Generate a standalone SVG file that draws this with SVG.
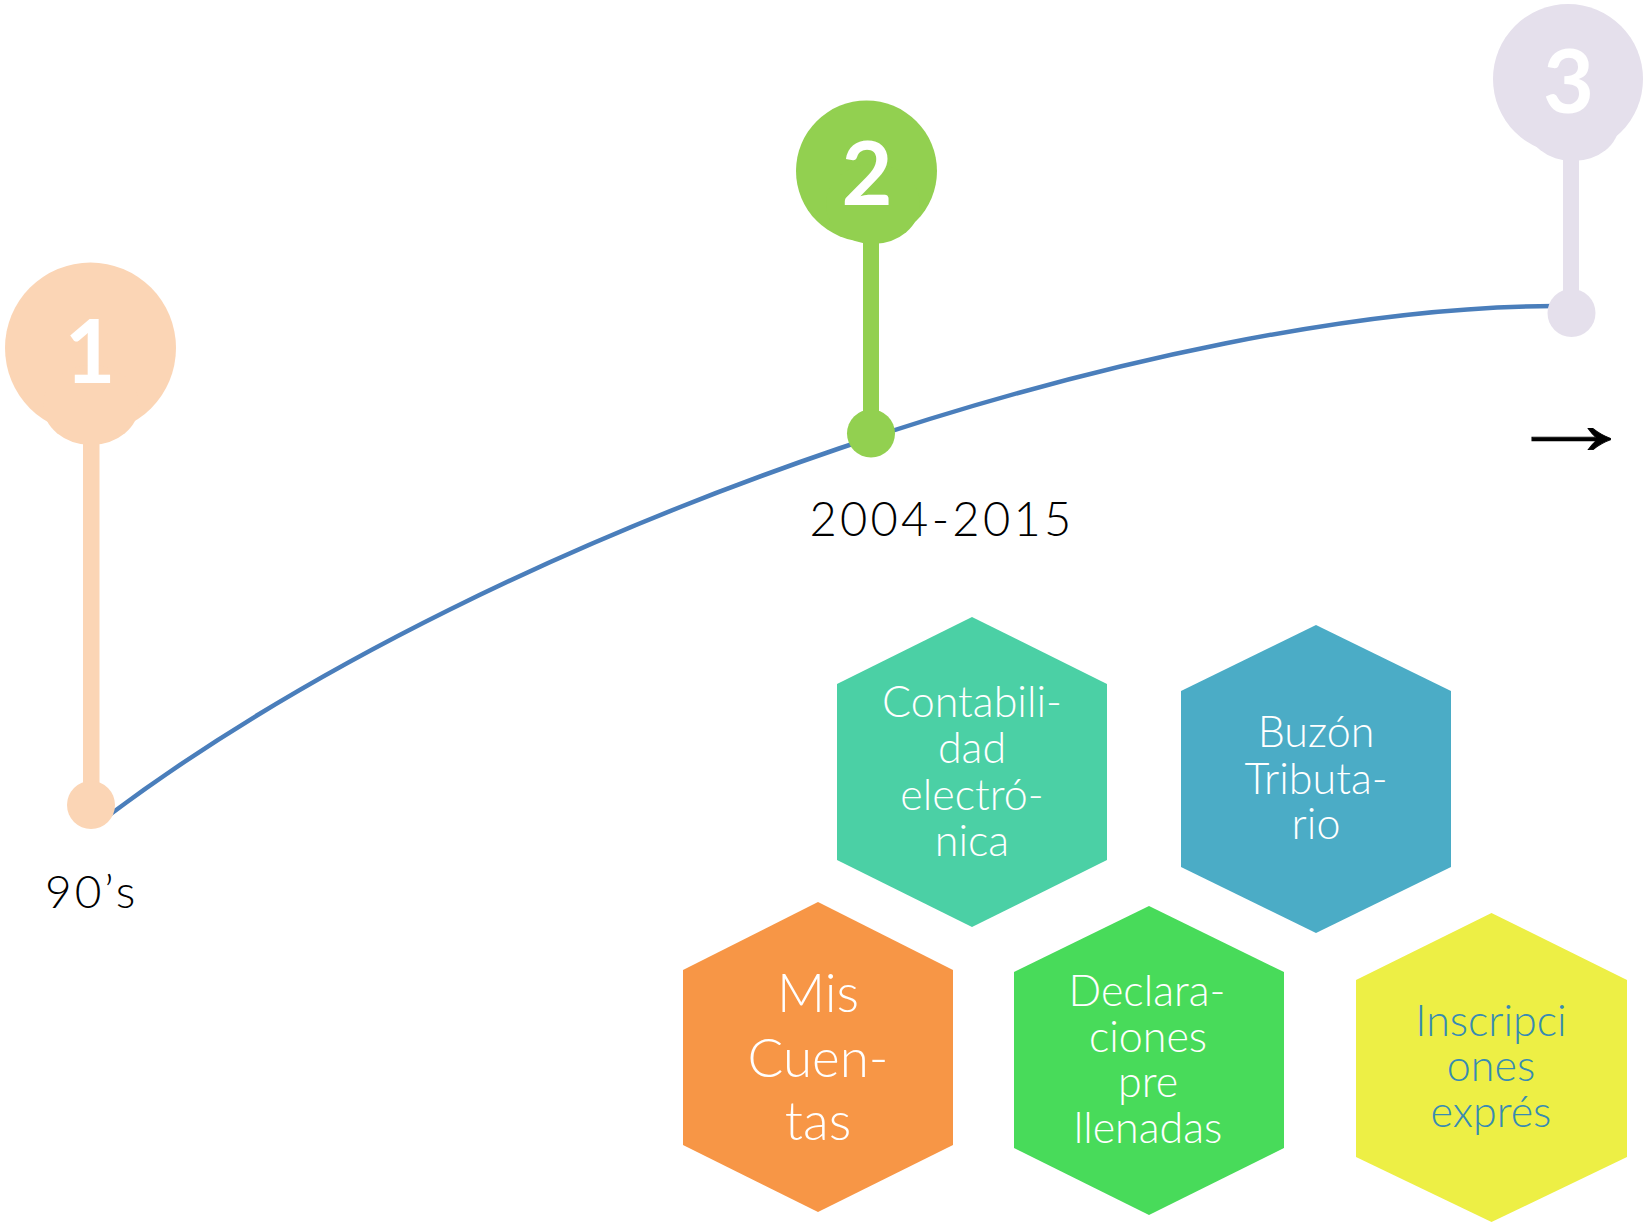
<svg xmlns="http://www.w3.org/2000/svg" width="1644" height="1223" viewBox="0 0 1644 1223">
<style>
.lbl{font-family:Lato,"Open Sans","Liberation Sans",sans-serif;font-weight:300;fill:#000;}
.num{font-family:Lato,"Open Sans","Liberation Sans",sans-serif;font-weight:700;fill:#fff;font-size:88px;text-anchor:middle;}
.hx{font-family:Lato,"Open Sans","Liberation Sans",sans-serif;font-weight:300;fill:#fff;font-size:43px;text-anchor:middle;}
.big{font-size:53px;}
.line{fill:none;stroke:#4A7EBB;stroke-width:4.5;stroke-linecap:round;}
</style>
<rect width="1644" height="1223" fill="#fff"/>
<g id="connectors">
<path class="line" d="M108,816 C508,516 1175,306 1555,306"/>
</g>
<g id="pin1" fill="#FBD5B5">
<circle cx="90.5" cy="348" r="85.5"/>
<ellipse cx="91" cy="405" rx="48" ry="40"/>
<rect x="83" y="420" width="16.5" height="385"/>
<circle cx="91" cy="805" r="24"/>
<text class="num" x="90" y="383">1</text>
</g>
<g id="pin2" fill="#92D050">
<circle cx="866.5" cy="171" r="70.5"/>
<ellipse cx="873" cy="204" rx="47" ry="40"/>
<rect x="863" y="230" width="16" height="203"/>
<circle cx="871" cy="433.5" r="24"/>
<text class="num" x="867" y="205">2</text>
</g>
<g id="pin3" fill="#E5E0EC">
<circle cx="1568" cy="79" r="75"/>
<ellipse cx="1573" cy="124" rx="46" ry="37"/>
<rect x="1563" y="150" width="16" height="163"/>
<circle cx="1571.5" cy="313" r="24"/>
<text class="num" x="1568.5" y="113">3</text>
</g>
<g id="label-90s"><text class="lbl" x="45" y="908" font-size="46" letter-spacing="3">90’s</text></g>
<g id="label-2004"><text class="lbl" x="942" y="536" font-size="47" letter-spacing="3.3" text-anchor="middle">2004-2015</text></g>
<g id="arrow-label"><text transform="translate(1571,453.5) scale(1.47,1)" x="0" y="0" font-family="'Liberation Serif','DejaVu Serif',serif" font-size="90" text-anchor="middle" fill="#000" stroke="#000" stroke-width="0.8">→</text></g>
<g id="hex-contabilidad">
<polygon points="972,617 1107,684 1107,860 972,927 837,860 837,684" fill="#4BD0A5"/>
<text class="hx"><tspan x="972" y="717">Contabili-</tspan><tspan x="972" y="763">dad</tspan><tspan x="972" y="810">electró-</tspan><tspan x="972" y="856">nica</tspan></text>
</g>
<g id="hex-buzon">
<polygon points="1316,625 1451,691 1451,867 1316,933 1181,867 1181,691" fill="#4BACC6"/>
<text class="hx"><tspan x="1316" y="747">Buzón</tspan><tspan x="1316" y="794">Tributa-</tspan><tspan x="1316" y="839">rio</tspan></text>
</g>
<g id="hex-miscuentas">
<polygon points="818,902 953,970 953,1145 818,1212 683,1145 683,970" fill="#F79646"/>
<text class="hx big"><tspan x="818" y="1012">Mis</tspan><tspan x="818" y="1077">Cuen-</tspan><tspan x="818" y="1140">tas</tspan></text>
</g>
<g id="hex-declaraciones">
<polygon points="1149,906 1284,972 1284,1148 1149,1215 1014,1148 1014,972" fill="#48DB5A"/>
<text class="hx"><tspan x="1147" y="1006">Declara-</tspan><tspan x="1148" y="1052">ciones</tspan><tspan x="1148" y="1097">pre</tspan><tspan x="1148" y="1143">llenadas</tspan></text>
</g>
<g id="hex-inscripciones">
<polygon points="1491.5,913 1627,980 1627,1157 1491.5,1222 1356,1157 1356,980" fill="#EDEF45"/>
<text class="hx" style="fill:#378BB3"><tspan x="1491" y="1036">Inscripci</tspan><tspan x="1491" y="1081">ones</tspan><tspan x="1491" y="1127">exprés</tspan></text>
</g>
</svg>
